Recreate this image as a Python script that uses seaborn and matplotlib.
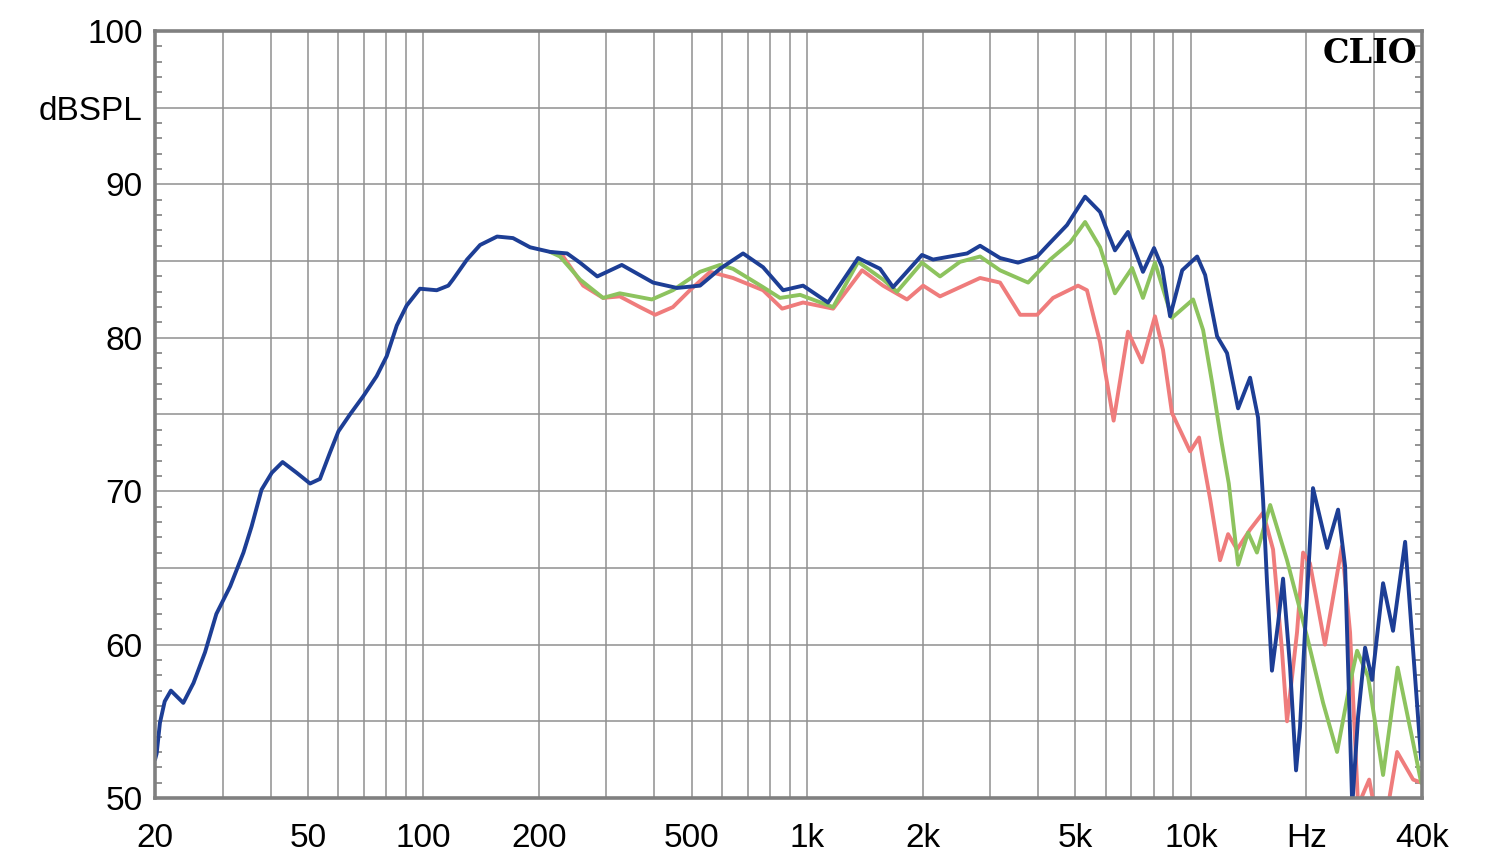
import numpy as np
import pandas as pd
import matplotlib
matplotlib.use("Agg")
import matplotlib.pyplot as plt
import seaborn as sns
from matplotlib.ticker import FixedLocator, NullFormatter

# ── Data ──────────────────────────────────────────────────────────────────────
blue_freq = [20.0, 20.2, 20.6, 21.2, 22.0, 23.7, 25.2, 27.0, 28.9, 31.4, 34.0,
             35.7, 37.9, 40.3, 43.0, 46.8, 50.7, 53.8, 57.1, 60.1, 64.4, 69.8,
             75.6, 80.3, 85.3, 90.5, 98.0, 108.4, 116.2, 119.5, 130, 140.6,
             155.7, 171.3, 189.8, 214, 237, 256, 284, 329, 397, 458, 526, 593,
             681, 768, 866, 976, 1134, 1358, 1549, 1675, 1992, 2129, 2612, 2823,
             3182, 3545, 3975, 4297, 4755, 5300, 5800, 6045, 6340, 6855, 7500,
             8015, 8410, 8825, 9490, 10380, 10890, 11700, 12420, 13270, 14260,
             14960, 15140, 15420, 15790, 16260, 16870, 17380, 18130, 18790,
             19240, 19830, 20800, 22640, 24180, 25220, 26320, 27260, 28430,
             29650, 31670, 33620, 36150, 37930, 39800]
blue_db = [52.5, 52.9, 54.9, 56.3, 57.0, 56.2, 57.5, 59.5, 62.0, 63.8, 66.0,
           67.7, 70.1, 71.2, 71.9, 71.2, 70.5, 70.8, 72.5, 73.9, 75.0, 76.2,
           77.5, 78.8, 80.8, 82.1, 83.2, 83.1, 83.4, 83.8, 85.1, 86.05,
           86.6, 86.5, 85.9, 85.6, 85.5, 84.9, 84.0, 84.75, 83.6, 83.25, 83.4, 84.5,
           85.5, 84.6, 83.1, 83.4, 82.3, 85.2, 84.5, 83.3, 85.4, 85.1, 85.5, 86.0,
           85.2, 84.9, 85.3, 86.2, 87.35, 89.2, 88.2, 87.0, 85.7, 86.9, 84.3,
           85.85, 84.6, 81.4, 84.4, 85.3, 84.1, 80.1, 79.0, 75.4, 77.4,
           74.8, 72.7, 69.4, 64.0, 58.3, 61.4, 64.3, 58.5, 51.8,
           54.6, 60.9, 70.2, 66.3, 68.8, 65.1, 49.5, 55.3, 59.8,
           57.7, 64.0, 60.9, 66.7, 59.6, 52.5]

green_freq = [214, 227, 256, 294, 325, 394, 447, 526, 593, 641, 768, 850, 959,
              1169, 1358, 1577, 1715, 1992, 2220, 2502, 2823, 3182, 3765, 4297,
              4842, 5300, 5800, 6340, 7025, 7500, 8060, 8925, 10130, 10760,
              11360, 12000, 12550, 13270, 14090, 14860, 16090, 17800, 20080,
              22100, 24030, 25980, 27100, 28950, 31670, 34560, 37930, 39800]
green_db = [85.6, 85.3, 83.8, 82.6, 82.9, 82.5, 83.1, 84.3, 84.75, 84.5, 83.3, 82.6, 82.8,
            82.0, 84.95, 83.8, 83.0, 84.9, 84.0, 84.95, 85.3, 84.4, 83.6, 85.1,
            86.2, 87.55, 85.9, 82.9, 84.55, 82.6, 84.9, 81.3, 82.5, 80.5,
            77.05, 73.3, 70.5, 65.2, 67.3, 66.0, 69.1, 65.5, 60.5,
            56.2, 53.0, 57.5, 59.6, 57.9, 51.5, 58.5, 53.6, 51.0]

red_freq = [214, 230, 261, 294, 325, 367, 402, 447, 495, 559, 641, 768, 861,
            976, 1169, 1391, 1577, 1821, 2006, 2220, 2823, 3182, 3590, 3975,
            4373, 5080, 5360, 5800, 6290, 6855, 7460, 8060, 8460, 8925, 9950,
            10500, 11220, 11910, 12500, 13190, 14260, 15420, 16370, 17270,
            17800, 18900, 19600, 20420, 22340, 24740, 25980, 27260, 29140,
            30000, 32640, 34460, 37930, 39800]
red_db = [85.6, 85.4, 83.4, 82.6, 82.7, 82.0, 81.5, 82.0, 83.1, 84.3, 83.9, 83.1, 81.9,
          82.3, 81.9, 84.4, 83.4, 82.5, 83.4, 82.7, 83.9, 83.6, 81.5, 81.5,
          82.6, 83.4, 83.1, 79.7, 74.6, 80.4, 78.4, 81.4, 79.2, 75.1, 72.6,
          73.5, 69.5, 65.5, 67.2, 66.2, 67.5, 68.6, 66.2, 59.6,
          55.0, 60.8, 66.0, 65.3, 60.0, 66.4, 60.8, 49.5, 51.2,
          49.5, 49.5, 53.0, 51.2, 51.0]

# axis ticks
x_grid = [20, 30, 40, 50, 60, 70, 80, 90, 100, 200, 300, 400, 500, 600, 700,
          800, 900, 1000, 2000, 3000, 4000, 5000, 6000, 7000, 8000, 9000,
          10000, 20000, 30000, 40000]
x_label_pos = [20, 50, 100, 200, 500, 1000, 2000, 5000, 10000, 20000, 40000]
x_label_txt = ["20", "50", "100", "200", "500", "1k", "2k", "5k", "10k", "Hz", "40k"]
y_grid = [50, 55, 60, 65, 70, 75, 80, 85, 90, 95, 100]
y_label_txt = ["50", "", "60", "", "70", "", "80", "", "90", "dBSPL", "100"]

df = pd.concat([
    pd.DataFrame({"freq": red_freq, "db": red_db, "trace": "red"}),
    pd.DataFrame({"freq": green_freq, "db": green_db, "trace": "green"}),
    pd.DataFrame({"freq": blue_freq, "db": blue_db, "trace": "blue"}),
])
palette = {"red": "#ef7c7c", "green": "#8dc35e", "blue": "#1d3e95"}

# ── Plot ──────────────────────────────────────────────────────────────────────
sns.set_theme(style="white")
plt.rcParams['font.family'] = ['Liberation Sans', 'DejaVu Sans']

fig = plt.figure(figsize=(15, 8.64), dpi=100)
ax = fig.add_axes([155 / 1500, 66 / 864, 1267 / 1500, 767 / 864])

sns.lineplot(data=df, x="freq", y="db", hue="trace", palette=palette,
             linewidth=2.8, legend=False, sort=False, estimator=None, ax=ax)

ax.set_xscale("log")
ax.set_xlim(20, 40000)
ax.set_ylim(50, 100)
ax.set_xlabel("")
ax.set_ylabel("")

# grid lines drawn manually so the labelled ticks can stay sparse
for xv in x_grid[1:-1]:
    ax.axvline(xv, color="#909090", lw=1.1, zorder=0)
for yv in y_grid[1:-1]:
    ax.axhline(yv, color="#909090", lw=1.1, zorder=0)

ax.xaxis.set_major_locator(FixedLocator(x_label_pos))
ax.set_xticklabels(x_label_txt)
ax.xaxis.set_minor_formatter(NullFormatter())
ax.xaxis.set_minor_locator(FixedLocator([]))
ax.tick_params(axis="x", which="major", length=0, pad=18, labelsize=24, colors="black")

ax.set_yticks(y_grid)
ax.set_yticklabels(y_label_txt)
ax.yaxis.set_minor_locator(FixedLocator(np.arange(50, 101, 1)))
ax.tick_params(axis="y", which="major", length=0, pad=9, labelsize=24, colors="black")
ax.tick_params(axis="y", which="minor", direction="in", length=5, width=1.2,
               color="#808080", left=True, right=True)

for sp in ax.spines.values():
    sp.set_color("#808080")
    sp.set_linewidth(2.6)

ax.text(0.996, 0.992, "CLIO", transform=ax.transAxes, ha="right", va="top",
        fontsize=24, fontweight="bold", family=["DejaVu Serif"], color="black")

fig.savefig("out.png", dpi=100, facecolor="white")
